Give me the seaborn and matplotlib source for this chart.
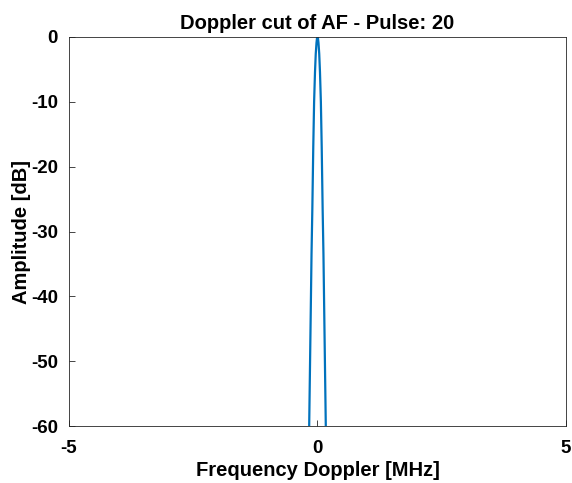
import matplotlib
matplotlib.use("Agg")
import matplotlib.pyplot as plt
import seaborn as sns
import pandas as pd

freq_mhz = [-0.175, -0.168, -0.138, -0.120, -0.104, -0.085, -0.068, -0.050, -0.035, -0.020, -0.010, 0.0,
            0.010, 0.020, 0.035, 0.050, 0.068, 0.085, 0.104, 0.120, 0.138, 0.168, 0.175]
amp_db = [-66.0, -60.5, -43.7, -33.5, -26.7, -17.0, -10.0, -5.4, -2.6, -0.9, -0.2, 0.0,
          -0.2, -0.9, -2.6, -5.4, -10.0, -17.0, -26.7, -33.5, -43.7, -60.5, -66.0]
x_ticks = [-5, 0, 5]
y_ticks = [0, -10, -20, -30, -40, -50, -60]

sns.set_theme(style="white")
plt.rcParams['font.family'] = ['Liberation Sans', 'DejaVu Sans']
plt.rcParams['font.weight'] = 'bold'
plt.rcParams['text.color'] = 'black'

df = pd.DataFrame({"f": freq_mhz, "a": amp_db})

fig = plt.figure(figsize=(5.72, 4.83), dpi=100)
ax = fig.add_axes([0.1206, 0.118, 0.8689, 0.8054])
sns.lineplot(data=df, x="f", y="a", ax=ax, color="#0072BD", linewidth=1.6, sort=False)

ax.set_xlim(-5, 5)
ax.set_ylim(-60, 0)
ax.set_xticks(x_ticks)
ax.set_yticks(y_ticks)
ax.set_xticklabels([str(t) for t in x_ticks], fontsize=13.5, fontweight='bold', color='black')
ax.set_yticklabels([str(t) for t in y_ticks], fontsize=13.5, fontweight='bold', color='black')
ax.tick_params(axis='x', direction='in', length=4, width=0.6, color='#262626', bottom=True, pad=10)
ax.tick_params(axis='y', direction='in', length=4, width=0.6, color='#262626', left=True, pad=8)
for s in ax.spines.values():
    s.set_color('#262626')
    s.set_linewidth(0.6)
ax.set_xlabel("Frequency Doppler [MHz]", fontsize=14.5, fontweight='bold', color='black', labelpad=3)
ax.set_ylabel("Amplitude [dB]", fontsize=14.5, fontweight='bold', color='black', labelpad=0)
ax.set_title("Doppler cut of AF - Pulse: 20", fontsize=14.5, fontweight='bold', color='black', pad=6)

fig.savefig("out.png", dpi=100)
